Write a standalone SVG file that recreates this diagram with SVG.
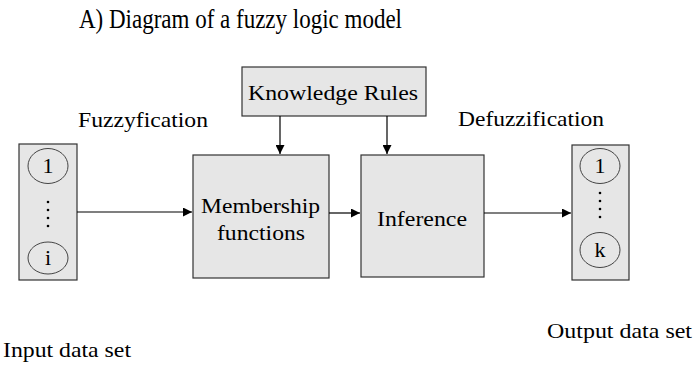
<svg xmlns="http://www.w3.org/2000/svg" width="697" height="366" viewBox="0 0 697 366">
<defs>
<style>
text{font-family:"Liberation Serif","Times New Roman",serif;fill:#000}
.t{font-size:22px}
.box{fill:#e6e6e6;stroke:#333;stroke-width:1.2}
.circ{fill:#e6e6e6;stroke:#444;stroke-width:1}
.con{stroke:#000;stroke-width:1.2;fill:none;marker-end:url(#ah)}
</style>
<marker id="ah" viewBox="0 0 10 10" refX="10" refY="5" markerWidth="9" markerHeight="9" markerUnits="userSpaceOnUse" orient="auto">
<path d="M0,0 L10,5 L0,10 z" fill="#000"/>
</marker>
</defs>
<rect width="697" height="366" fill="#fff"/>
<text x="79" y="28" style="font-size:28px" textLength="323" lengthAdjust="spacingAndGlyphs">A) Diagram of a fuzzy logic model</text>
<text class="t" x="78" y="127" textLength="130" lengthAdjust="spacingAndGlyphs">Fuzzyfication</text>
<text class="t" x="458" y="126" textLength="146" lengthAdjust="spacingAndGlyphs">Defuzzification</text>
<text class="t" x="3" y="357" textLength="128" lengthAdjust="spacingAndGlyphs">Input data set</text>
<text class="t" x="547" y="338" textLength="145" lengthAdjust="spacingAndGlyphs">Output data set</text>
<g id="input">
<rect class="box" x="19" y="144" width="58" height="136"/>
<ellipse class="circ" cx="48" cy="166" rx="20" ry="17.5"/>
<text class="t" x="48" y="173" text-anchor="middle">1</text>
<g fill="#000"><circle cx="48" cy="202" r="1.3"/><circle cx="48" cy="210" r="1.3"/><circle cx="48" cy="218" r="1.3"/><circle cx="48" cy="226" r="1.3"/></g>
<ellipse class="circ" cx="48" cy="258" rx="20" ry="16"/>
<text class="t" x="48" y="265" text-anchor="middle">i</text>
</g>
<g id="knowledge">
<rect class="box" x="242" y="67" width="184" height="49"/>
<text class="t" x="248" y="100" textLength="170" lengthAdjust="spacingAndGlyphs">Knowledge Rules</text>
</g>
<g id="membership">
<rect class="box" x="193" y="155" width="136" height="123"/>
<text class="t" x="201" y="213" textLength="119" lengthAdjust="spacingAndGlyphs">Membership</text>
<text class="t" x="217" y="240" textLength="88" lengthAdjust="spacingAndGlyphs">functions</text>
</g>
<g id="inference">
<rect class="box" x="361" y="155" width="123" height="122"/>
<text class="t" x="377" y="226" textLength="90" lengthAdjust="spacingAndGlyphs">Inference</text>
</g>
<g id="output">
<rect class="box" x="572" y="145" width="57" height="135"/>
<ellipse class="circ" cx="600" cy="166" rx="20" ry="17.5"/>
<text class="t" x="600" y="173" text-anchor="middle">1</text>
<g fill="#000"><circle cx="600" cy="193" r="1.3"/><circle cx="600" cy="201" r="1.3"/><circle cx="600" cy="209" r="1.3"/><circle cx="600" cy="217" r="1.3"/></g>
<ellipse class="circ" cx="600" cy="250" rx="20" ry="17.5"/>
<text class="t" x="600" y="257" text-anchor="middle">k</text>
</g>
<g id="connectors">
<line class="con" x1="77" y1="212" x2="192" y2="212"/>
<line class="con" x1="329" y1="213" x2="360" y2="213"/>
<line class="con" x1="484" y1="213" x2="571" y2="213"/>
<line class="con" x1="280" y1="116" x2="280" y2="154"/>
<line class="con" x1="387" y1="116" x2="387" y2="154"/>
</g>
</svg>
